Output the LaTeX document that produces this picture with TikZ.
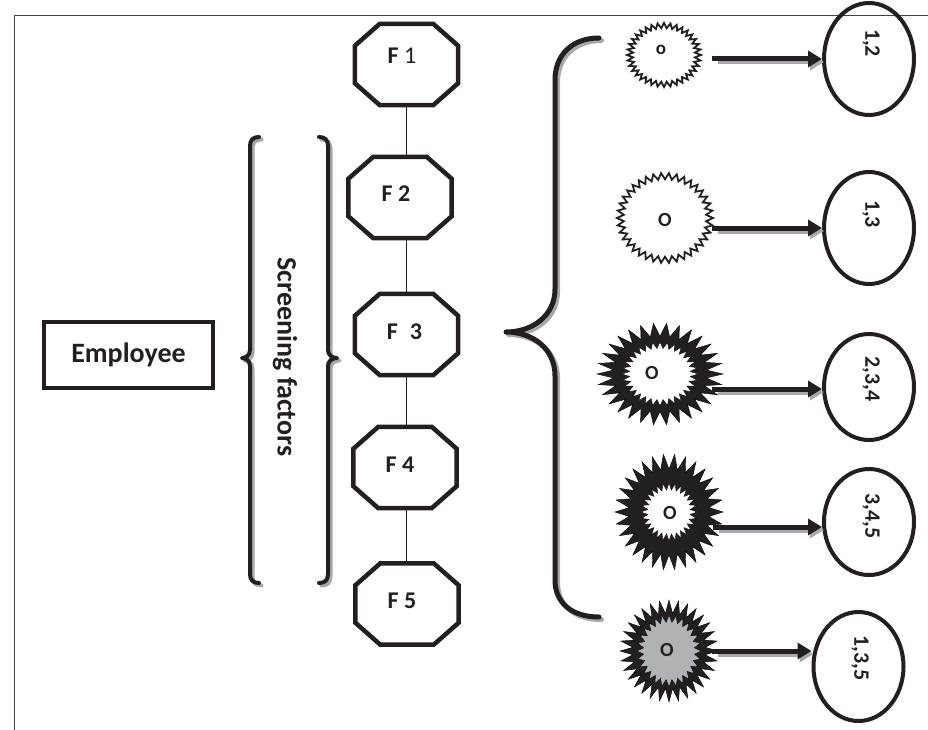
\documentclass[tikz,border=0pt]{standalone}
\usepackage{fontspec}
\setmainfont{Carlito}
\usetikzlibrary{arrows.meta,calc,shapes.geometric}
\definecolor{ink}{HTML}{231F20}
\definecolor{shadowgray}{HTML}{A7A9AC}
\definecolor{fillgray}{HTML}{B0B2B5}
\newcommand{\burst}[6]{%
  \draw[shift={(#1)},#6] plot[samples=\the\numexpr2*#5+1\relax,domain=0:2*#5,variable=\k]
    ({((mod(round(\k),2)==0)?1:#4)*#2*cos(\k*180/#5)},{((mod(round(\k),2)==0)?1:#4)*#3*sin(\k*180/#5)}) -- cycle;}
\tikzset{
  frameline/.style={draw=ink!85, line width=1pt},
  empbox/.style={draw=ink, line width=4pt, rectangle, minimum width=169pt, minimum height=66pt, inner sep=0pt, font=\fontsize{28}{30}\selectfont\bfseries, text=ink},
  octnode/.style={rectangle, minimum width=103pt, minimum height=81pt, inner sep=0pt},
  octline/.style={draw=ink, line width=4.5pt, line join=miter},
  flabel/.style={font=\fontsize{24}{26}\selectfont\bfseries, text=ink, inner sep=0pt},
  link/.style={draw=ink, line width=1.4pt},
  ellnode/.style={ellipse, draw=ink, line width=4pt, minimum width=90pt, inner sep=0pt},
  numlabel/.style={rotate=-90, font=\fontsize{22}{24}\selectfont\bfseries, text=ink, inner sep=0pt},
  sidetext/.style={rotate=-90, font=\fontsize{28}{30}\selectfont\bfseries, text=ink, inner sep=0pt},
  bracepath/.style={draw=ink, line width=4pt, line cap=round, line join=round},
  braceshade/.style={draw=shadowgray, line width=4pt, line cap=round, line join=round, transform canvas={shift={(2.5pt,-2.5pt)}}},
  arrowline/.style={draw=ink, line width=5pt, -{Triangle[length=14pt,width=16pt]}},
  arrowshade/.style={draw=shadowgray, line width=5pt, -{Triangle[length=14pt,width=16pt]}, transform canvas={shift={(2pt,-3pt)}}},
  burstline/.style={draw=ink, line width=1.8pt, fill=white, line join=miter},
  burstblack/.style={fill=ink},
  burstwhite/.style={fill=white},
  burstgray/.style={fill=fillgray},
  startext/.style={font=\fontsize{20}{22}\selectfont\bfseries, text=ink, inner sep=0pt},
}
\begin{document}
\begin{tikzpicture}[x=1pt, y=-1pt]
\useasboundingbox (0,0) rectangle (928,730);
\fill[white] (0,0) rectangle (928,730);
\begin{scope}
\clip (0,0) rectangle (928,730);
% frame
\draw[frameline] (14,730) -- (14,16) -- (928,16);

% employee
\node[empbox] (emp) at (128.5,355) {Employee};

% small braces
\draw[braceshade] (259,137) .. controls (253,137) and (250,140) .. (250,146) -- (250,350) .. controls (250,355) and (246,358) .. (242,358) .. controls (246,358) and (250,361) .. (250,366) -- (250,574) .. controls (250,580) and (253,583) .. (259,583);
\draw[bracepath] (259,137) .. controls (253,137) and (250,140) .. (250,146) -- (250,350) .. controls (250,355) and (246,358) .. (242,358) .. controls (246,358) and (250,361) .. (250,366) -- (250,574) .. controls (250,580) and (253,583) .. (259,583);
\draw[braceshade] (319,137) .. controls (325,137) and (328,140) .. (328,146) -- (328,350) .. controls (328,355) and (332,358) .. (337,358) .. controls (332,358) and (328,361) .. (328,366) -- (328,574) .. controls (328,580) and (325,583) .. (319,583);
\draw[bracepath] (319,137) .. controls (325,137) and (328,140) .. (328,146) -- (328,350) .. controls (328,355) and (332,358) .. (337,358) .. controls (332,358) and (328,361) .. (328,366) -- (328,574) .. controls (328,580) and (325,583) .. (319,583);
\node[sidetext] (scr) at (285,357) {Screening factors};

% octagons
\node[octnode] (F1) at (406.5,64.5) {};
\node[octnode] (F2) at (400,197.5) {};
\node[octnode] (F3) at (406.5,334.5) {};
\node[octnode] (F4) at (405,467.5) {};
\node[octnode] (F5) at (407,604) {};
\foreach \n in {F1,F2,F3,F4,F5}
  \draw[octline] ([xshift=25pt]\n.north west) -- ([xshift=-25pt]\n.north east) -- ([yshift=-22pt]\n.north east) -- ([yshift=22pt]\n.south east) -- ([xshift=-25pt]\n.south east) -- ([xshift=25pt]\n.south west) -- ([yshift=22pt]\n.south west) -- ([yshift=-22pt]\n.north west) -- cycle;
\node[flabel] (F1t) at (402,56) {F {\mdseries 1}};
\node[flabel] (F2t) at (396,194) {F 2};
\node[flabel] (F3t) at (404.5,332) {F\enspace3};
\node[flabel] (F4t) at (400,465) {F 4};
\node[flabel] (F5t) at (402,601) {F 5};
\draw[link] (F1.south) -- (F1.south |- F2.north);
\draw[link] (F1.south |- F2.south) -- (F1.south |- F3.north);
\draw[link] (F3.south) -- (F3.south |- F4.north);
\draw[link] (F3.south |- F4.south) -- (F3.south |- F5.north);

% big brace
\draw[braceshade, line width=5pt] (599,38) .. controls (572,38) and (555,55) .. (555,80) -- (555,289) .. controls (555,316) and (532,332) .. (506,332) .. controls (532,332) and (555,348) .. (555,376) -- (555,580) .. controls (555,603) and (572,617) .. (599,617);
\draw[bracepath, line width=5pt] (599,38) .. controls (572,38) and (555,55) .. (555,80) -- (555,289) .. controls (555,316) and (532,332) .. (506,332) .. controls (532,332) and (555,348) .. (555,376) -- (555,580) .. controls (555,603) and (572,617) .. (599,617);

% bursts
\coordinate (c1) at (664,55);
\coordinate (c2) at (665,218);
\coordinate (c3) at (660,374);
\coordinate (c4) at (669,512);
\coordinate (c5) at (669,651);
\burst{c1}{37}{32}{0.84}{36}{burstline}
\burst{c2}{48}{45}{0.86}{38}{burstline}
\burst{c3}{63}{51}{0.74}{30}{burstblack}
\burst{c3}{38}{32}{0.8}{32}{burstwhite}
\burst{c4}{54}{58}{0.74}{30}{burstblack}
\burst{c4}{28}{29}{0.76}{28}{burstwhite}
\burst{c5}{49}{51}{0.74}{32}{burstblack}
\burst{c5}{32}{36}{0.8}{28}{burstgray}
\node[startext, font=\fontsize{19}{21}\selectfont\bfseries] (s1) at (661,50) {o};
\node[startext] (s2) at (665,220) {O};
\node[startext] (s3) at (652,373) {O};
\node[startext] (s4) at (670,513) {O};
\node[startext] (s5) at (667,650) {O};

% ellipses
\node[ellnode, minimum height=112pt] (e1) at (869,59) {};
\node[ellnode, minimum height=112pt] (e2) at (869,228) {};
\node[ellnode, minimum height=106pt] (e3) at (869,387) {};
\node[ellnode, minimum height=106pt] (e4) at (869,522) {};
\node[ellnode, minimum height=109pt] (e5) at (858.5,666.5) {};
\node[numlabel] (t1) at (871,43) {1,2};
\node[numlabel] (t2) at (871,214) {1,3};
\node[numlabel] (t3) at (871,379) {2,3,4};
\node[numlabel] (t4) at (871,516) {3,4,5};
\node[numlabel] (t5) at (860,658) {1,3,5};

% arrows
\coordinate (a1) at (712,59);
\coordinate (a2) at (712,228);
\coordinate (a3) at (712,389);
\coordinate (a4) at (713,527);
\coordinate (a5) at (712,651);
\foreach \i in {1,...,5}{
  \draw[arrowshade] ([xshift=4pt]a\i) -- (a\i -| e\i.west);
  \draw[arrowline] (a\i) -- (a\i -| e\i.west);
}
\end{scope}
\end{tikzpicture}
\end{document}
